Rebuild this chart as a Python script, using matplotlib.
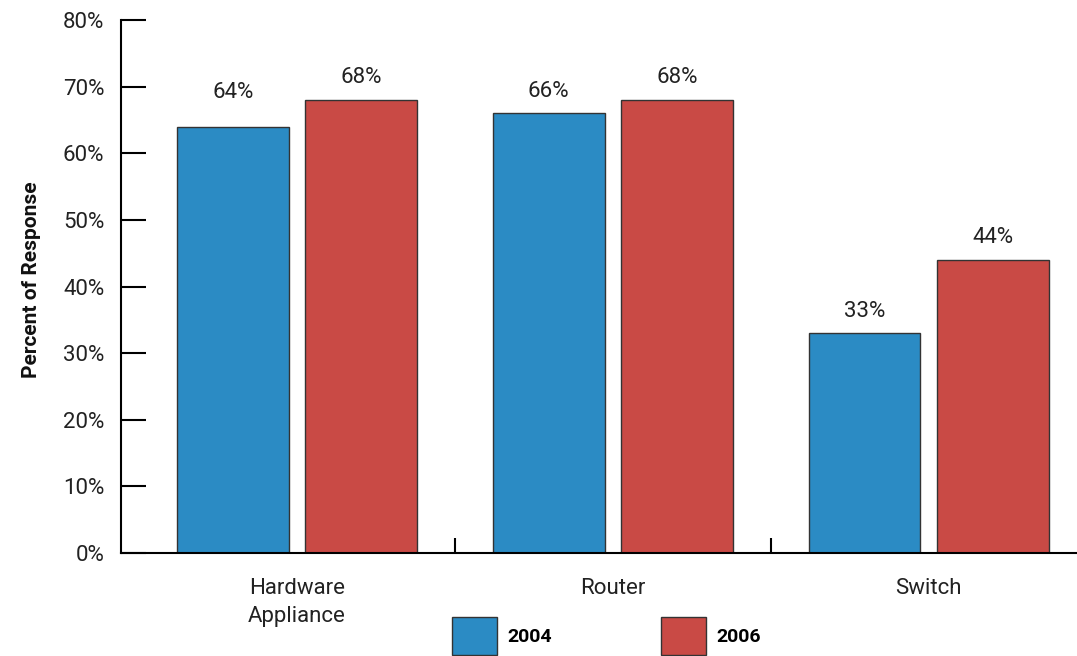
import matplotlib.pyplot as plt
from matplotlib.patches import Patch

#data
categories = ["Hardware\nAppliance", "Router", "Switch"]
years = ["2004", "2006"]
values_2004 = [64, 66, 33]
values_2006 = [68, 68, 44]
yticks = [0, 10, 20, 30, 40, 50, 60, 70, 80]

blue = "#2b8bc4"
red = "#c94a45"
edge = "#333333"

plt.rcParams["font.family"] = ["DejaVu Sans Condensed", "Roboto", "DejaVu Sans"]

fig = plt.figure(figsize=(10.77, 6.56), dpi=100)
ax = fig.add_axes([0.1123, 0.157, 0.8877, 0.8125])

x = range(len(categories))
w = 0.354
off = 0.203
b1 = ax.bar([i - off for i in x], values_2004, width=w, color=blue, edgecolor=edge, linewidth=1)
b2 = ax.bar([i + off for i in x], values_2006, width=w, color=red, edgecolor=edge, linewidth=1)

#value labels (64% sits a bit higher in the original)
for bars, vals in [(b1, values_2004), (b2, values_2006)]:
    for rect, v in zip(bars, vals):
        lift = 5.1 if (bars is b1 and v == 64) else 3.3
        ax.text(rect.get_x() + rect.get_width() / 2, v + lift, f"{v}%",
                ha="center", va="center", fontsize=16, color="#222222")

ax.set_xlim(-0.558, 2.47)
ax.set_ylim(0, 80)
ax.set_yticks(yticks)
ax.set_yticklabels([f"{t}%" for t in yticks], fontsize=16, color="#222222")
ax.set_xticks(list(x))
ax.set_xticklabels(categories, fontsize=16, color="#222222")
for lab in ax.get_xticklabels():
    lab.set_linespacing(1.45)
ax.set_xticks([0.5, 1.5], minor=True)

ax.tick_params(axis="y", direction="in", length=18, width=1.5, pad=12)
ax.tick_params(axis="x", which="major", length=0, pad=18)
ax.tick_params(axis="x", which="minor", direction="in", length=11, width=1.5)

for s in ["top", "right"]:
    ax.spines[s].set_visible(False)
ax.spines["left"].set_linewidth(1.5)
ax.spines["bottom"].set_linewidth(1.5)

fig.text(0.029, 1 - 280 / 656, "Percent of Response", rotation=90, ha="center", va="center",
         fontsize=15, fontweight="bold", color="#111111")

handles = [Patch(facecolor=blue, edgecolor=edge), Patch(facecolor=red, edgecolor=edge)]
fig.legend(handles, years, loc="upper left", bbox_to_anchor=(452 / 1077, 1 - 617 / 656),
           ncol=2, frameon=False, borderpad=0, borderaxespad=0,
           handlelength=2.3, handleheight=2.6, handletextpad=0.55, columnspacing=5.6,
           prop={"size": 14, "weight": "bold"})

plt.savefig("out.png")
